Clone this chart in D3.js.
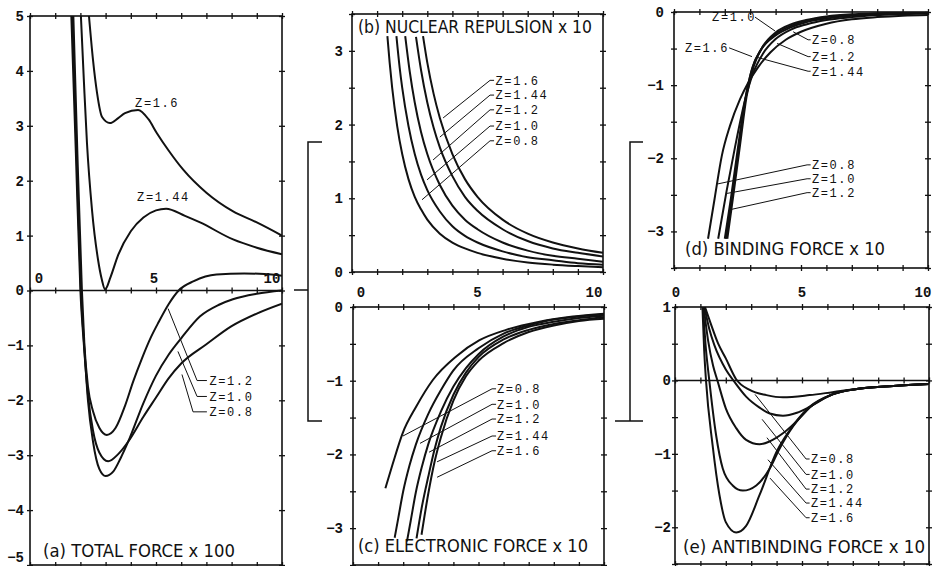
<!DOCTYPE html>
<html>
<head>
<meta charset="utf-8">
<script src="https://cdn.jsdelivr.net/npm/d3@7"></script>
<style>
  html, body { margin: 0; padding: 0; background: #fff; }
  svg { display: block; }
  .tlab { font-family: "Liberation Mono", "DejaVu Sans Mono", monospace; font-weight: bold; font-size: 14px; fill: #111; }
  .zlab { font-family: "Liberation Mono", "DejaVu Sans Mono", monospace; font-size: 12px; letter-spacing: 1.6px; fill: #111; }
  .title { font-family: "Liberation Sans Narrow", "DejaVu Sans Condensed", "Roboto Condensed", sans-serif; font-stretch: condensed; font-size: 18px; fill: #111; }
</style>
</head>
<body>
<svg id="fig" width="936" height="566"></svg>
<script>
// ---- values: [R, force] pairs, one array per exponent Z ----
const zNames = ["Z=0.8", "Z=1.0", "Z=1.2", "Z=1.44", "Z=1.6"];

// (a) total force x 100
const total08  = [[1.64,5],[1.82,2.5],[2.0,0],[2.14,-1],[2.3,-1.9],[2.5,-2.55],[2.75,-2.95],[3.1,-3.11],[3.5,-2.98],[3.9,-2.75],[4.5,-2.3],[5,-1.95],[5.5,-1.6],[6,-1.33],[7,-0.98],[8,-0.65],[9,-0.42],[10,-0.24]];
const total10  = [[1.68,5],[1.85,2.5],[2.02,0],[2.15,-1],[2.3,-2.0],[2.5,-2.75],[2.75,-3.25],[3.0,-3.38],[3.3,-3.3],[3.6,-3.05],[3.9,-2.75],[4.5,-2.05],[5,-1.55],[5.5,-1.17],[6,-0.87],[6.75,-0.47],[7.5,-0.26],[8.05,-0.16],[9,-0.06],[10,0]];
const total12  = [[1.72,5],[1.88,2.5],[2.06,0],[2.16,-1],[2.3,-1.75],[2.5,-2.2],[2.75,-2.5],[3.05,-2.63],[3.4,-2.5],[3.77,-2.1],[4.1,-1.65],[4.44,-1.24],[4.8,-0.85],[5.1,-0.58],[5.5,-0.25],[5.9,0],[6.5,0.17],[7.4,0.29],[8.5,0.31],[9.3,0.3],[10,0.27]];
const total144 = [[2.02,5],[2.14,3.8],[2.26,2.69],[2.46,1.47],[2.7,0.56],[2.85,0.2],[2.98,0.02],[3.2,0.25],[3.5,0.65],[4.0,1.08],[4.5,1.33],[5.0,1.46],[5.4,1.49],[6.15,1.36],[6.75,1.24],[8.06,0.93],[9,0.78],[10,0.66]];
const total16  = [[2.34,5],[2.5,4.2],[2.66,3.6],[2.86,3.16],[3.17,3.05],[3.5,3.14],[3.77,3.23],[4.29,3.29],[4.7,3.12],[5.03,2.87],[5.5,2.55],[6.08,2.2],[7,1.78],[8.06,1.44],[9,1.24],[10,1.0]];

// (b) nuclear repulsion x 10
const nuclear08  = [[1.41,3.2],[1.5,2.84],[1.6,2.5],[1.8,1.98],[2,1.6],[2.25,1.26],[2.5,1.02],[2.75,0.85],[3,0.71],[3.5,0.52],[4,0.4],[4.5,0.32],[5,0.26],[6,0.18],[7,0.13],[8,0.1],[9,0.08],[10,0.064]];
const nuclear10  = [[1.77,3.2],[1.9,2.77],[2,2.5],[2.25,1.98],[2.5,1.6],[2.75,1.32],[3,1.11],[3.5,0.82],[4,0.62],[4.5,0.49],[5,0.4],[6,0.28],[7,0.2],[8,0.16],[9,0.12],[10,0.1]];
const nuclear12  = [[2.12,3.2],[2.3,2.72],[2.5,2.3],[2.75,1.9],[3,1.6],[3.5,1.18],[4,0.9],[4.5,0.71],[5,0.58],[6,0.4],[7,0.29],[8,0.22],[9,0.18],[10,0.14]];
const nuclear144 = [[2.55,3.19],[2.75,2.74],[3,2.3],[3.25,1.96],[3.5,1.69],[4,1.3],[4.5,1.02],[5,0.83],[6,0.58],[7,0.42],[8,0.32],[9,0.26],[10,0.21]];
const nuclear16  = [[2.83,3.2],[3,2.84],[3.25,2.42],[3.5,2.09],[4,1.6],[4.5,1.26],[5,1.02],[6,0.71],[7,0.52],[8,0.4],[9,0.32],[10,0.26]];

// (c) electronic force x 10
const electronic08  = [[1.29,-2.46],[1.59,-2.12],[1.98,-1.71],[2.52,-1.35],[3.18,-0.99],[4.11,-0.67],[5.04,-0.45],[6.1,-0.31],[7.43,-0.2],[8.76,-0.13],[10,-0.09]];
const electronic10  = [[1.66,-3.13],[1.8,-2.87],[2,-2.5],[2.25,-2.15],[2.5,-1.87],[3,-1.45],[3.5,-1.13],[4,-0.86],[5,-0.56],[6,-0.36],[7,-0.25],[8,-0.17],[9,-0.13],[10,-0.1]];
const electronic12  = [[2.15,-3.18],[2.3,-2.9],[2.5,-2.52],[2.75,-2.16],[3,-1.86],[3.5,-1.42],[4,-1.08],[4.5,-0.83],[5,-0.64],[6,-0.4],[7,-0.27],[8,-0.2],[9,-0.15],[10,-0.12]];
const electronic144 = [[2.53,-3.14],[2.75,-2.7],[3,-2.3],[3.25,-1.93],[3.5,-1.63],[4,-1.19],[4.5,-0.89],[5,-0.68],[6,-0.44],[7,-0.31],[8,-0.23],[9,-0.18],[10,-0.14]];
const electronic16  = [[2.73,-3.09],[3,-2.53],[3.25,-2.1],[3.5,-1.77],[4,-1.27],[4.5,-0.94],[5,-0.73],[6,-0.49],[7,-0.34],[8,-0.25],[9,-0.19],[10,-0.16]];

// (d) binding force x 10
const binding08  = [[1.34,-3.1],[1.6,-2.55],[1.88,-1.97],[2.2,-1.56],[2.6,-1.19],[2.9,-0.98],[3.3,-0.76],[3.8,-0.55],[4.4,-0.38],[5,-0.27],[6,-0.16],[7,-0.1],[8,-0.07],[9,-0.05],[10,-0.04]];
const binding10  = [[1.74,-3.1],[2.07,-2.45],[2.4,-1.85],[2.8,-1.2],[3.1,-0.85],[3.5,-0.57],[4,-0.37],[4.6,-0.24],[5.2,-0.17],[6,-0.11],[7,-0.07],[8,-0.04],[9,-0.03],[10,-0.02]];
const binding12  = [[2.0,-3.1],[2.24,-2.55],[2.5,-1.9],[2.8,-1.2],[3.07,-0.78],[3.4,-0.53],[4,-0.32],[4.6,-0.21],[5.2,-0.14],[6,-0.09],[7,-0.05],[8,-0.03],[9,-0.02],[10,-0.01]];
const binding144 = [[2.05,-3.1],[2.3,-2.5],[2.55,-1.85],[2.82,-1.18],[3.1,-0.75],[3.45,-0.5],[4,-0.3],[4.6,-0.19],[5.2,-0.12],[6,-0.07],[7,-0.04],[8,-0.02],[9,-0.01],[10,-0.01]];
const binding16  = [[2.1,-3.1],[2.35,-2.47],[2.6,-1.82],[2.86,-1.15],[3.15,-0.73],[3.5,-0.47],[4,-0.28],[4.6,-0.17],[5.2,-0.11],[6,-0.06],[7,-0.03],[8,-0.02],[9,-0.01],[10,0]];

// (e) antibinding force x 10
const antibinding08  = [[1.18,1],[1.4,0.78],[1.7,0.5],[2.0,0.3],[2.4,0.02],[2.94,-0.13],[3.6,-0.2],[4.25,-0.23],[5.3,-0.2],[6.2,-0.16],[7.3,-0.11],[8.6,-0.075],[10,-0.05]];
const antibinding10  = [[1.16,1],[1.35,0.7],[1.55,0.48],[2.0,0.15],[2.3,0],[2.8,-0.22],[3.33,-0.37],[3.73,-0.45],[4.25,-0.48],[4.8,-0.44],[5.3,-0.36],[6.2,-0.19],[7.3,-0.11],[8.6,-0.075],[10,-0.05]];
const antibinding12  = [[1.13,1],[1.3,0.55],[1.5,0.2],[1.67,0],[2.0,-0.38],[2.41,-0.65],[2.8,-0.81],[3.33,-0.87],[3.73,-0.83],[4.25,-0.72],[4.92,-0.51],[5.3,-0.37],[6.2,-0.19],[7.3,-0.11],[8.6,-0.075],[10,-0.05]];
const antibinding144 = [[1.1,1],[1.2,0.5],[1.35,0],[1.62,-0.75],[1.88,-1.2],[2.27,-1.43],[2.67,-1.5],[3.2,-1.43],[3.73,-1.2],[4.1,-0.94],[4.66,-0.62],[5.3,-0.37],[6.2,-0.19],[7.3,-0.11],[8.6,-0.075],[10,-0.05]];
const antibinding16  = [[1.08,1],[1.15,0.4],[1.22,0],[1.48,-0.88],[1.75,-1.56],[2.0,-1.93],[2.41,-2.07],[2.8,-1.98],[3.33,-1.56],[4.0,-0.97],[4.66,-0.61],[5.3,-0.36],[6.2,-0.19],[7.3,-0.11],[8.6,-0.075],[10,-0.05]];

// tick labels
const xTickLabels = [0, 5, 10];
const yLabelsA = [5, 4, 3, 2, 1, 0, -1, -2, -3, -4, -5];
const yLabelsB = [0, 1, 2, 3];
const yLabelsC = [0, -1, -2, -3];
const yLabelsD = [0, -1, -2, -3];
const yLabelsE = [1, 0, -1, -2];

// ---- panel layout ----
const panels = [
  {
    box: {x0: 30, x1: 282, y0: 16, y1: 565}, yDomain: [-5, 5], yStep: 1, zeroLine: true,
    yLabels: yLabelsA, yLabelGap: 6, edgeLift: 8,
    xLabels: {inside: true, dy: -8, shift: [9, -2, -10]},
    series: [total08, total10, total12, total144, total16],
    title: {text: "(a) TOTAL FORCE x 100", dx: 13, y: 557, w: 192},
    notes: [
      {z: 4, at: [4.17, 3.42]},
      {z: 3, at: [4.25, 1.71]},
      {z: 2, at: [7.12, -1.64], leader: [[5.48, -0.33], [6.63, -1.64], [7.02, -1.64]]},
      {z: 1, at: [7.12, -1.93], leader: [[5.87, -1.11], [6.63, -1.93], [7.02, -1.93]]},
      {z: 0, at: [7.12, -2.21], leader: [[6.03, -1.53], [6.47, -2.21], [7.02, -2.21]]}
    ]
  },
  {
    box: {x0: 352, x1: 603, y0: 14, y1: 272}, yDomain: [0, 3.5], yStep: 0.5,
    yLabels: yLabelsB, yLabelGap: 9,
    xLabels: {inside: false, y: 297, shift: [9, 0, -9]},
    series: [nuclear08, nuclear10, nuclear12, nuclear144, nuclear16],
    title: {text: "(b) NUCLEAR REPULSION x 10", dx: 6, y: 33, w: 234},
    notes: [
      {z: 4, at: [5.72, 2.6],  leader: [[3.63, 2.09], [5.5, 2.6],  [5.66, 2.6]]},
      {z: 3, at: [5.72, 2.4],  leader: [[3.5, 1.83],  [5.5, 2.4],  [5.66, 2.4]]},
      {z: 2, at: [5.72, 2.2],  leader: [[3.23, 1.52], [5.5, 2.2],  [5.66, 2.2]]},
      {z: 1, at: [5.72, 1.98], leader: [[2.99, 1.25], [5.5, 1.98], [5.66, 1.98]]},
      {z: 0, at: [5.72, 1.78], leader: [[2.79, 0.98], [5.5, 1.78], [5.66, 1.78]]}
    ]
  },
  {
    box: {x0: 353, x1: 604, y0: 307, y1: 565}, yDomain: [-3.5, 0], yStep: 0.5,
    yLabels: yLabelsC, yLabelGap: 10,
    series: [electronic08, electronic10, electronic12, electronic144, electronic16],
    title: {text: "(c) ELECTRONIC FORCE x 10", dx: 5, y: 552, w: 230},
    notes: [
      {z: 0, at: [5.74, -1.11], leader: [[1.99, -1.75], [5.54, -1.11], [5.7, -1.11]]},
      {z: 1, at: [5.74, -1.32], leader: [[2.67, -1.85], [5.54, -1.32], [5.7, -1.32]]},
      {z: 2, at: [5.74, -1.52], leader: [[3.03, -1.97], [5.54, -1.52], [5.7, -1.52]]},
      {z: 3, at: [5.74, -1.75], leader: [[3.35, -2.1],  [5.54, -1.75], [5.7, -1.75]]},
      {z: 4, at: [5.74, -1.95], leader: [[3.35, -2.31], [5.54, -1.95], [5.7, -1.95]]}
    ]
  },
  {
    box: {x0: 674, x1: 928, y0: 12, y1: 268}, yDomain: [-3.5, 0], yStep: 0.5,
    yLabels: yLabelsD, yLabelGap: 10,
    xLabels: {inside: false, y: 297, shift: [2, 1, -5]},
    series: [binding08, binding10, binding12, binding144, binding16],
    title: {text: "(d) BINDING FORCE x 10", dx: 11, y: 255, w: 200},
    notes: [
      {z: 1, at: [1.5, -0.07],  leader: [[3.19, -0.07], [3.98, -0.26]]},
      {z: 0, at: [5.43, -0.38], leader: [[4.69, -0.27], [5.28, -0.38], [5.38, -0.38]]},
      {z: 2, at: [5.43, -0.61], leader: [[4.06, -0.43], [5.28, -0.61], [5.38, -0.61]]},
      {z: 3, at: [5.43, -0.81], leader: [[3.27, -0.62], [5.28, -0.81], [5.38, -0.81]]},
      {z: 4, at: [0.43, -0.49], leader: [[2.17, -0.49], [3.07, -0.61]]},
      {z: 0, at: [5.43, -2.09], leader: [[1.73, -2.35], [5.24, -2.09], [5.38, -2.09]]},
      {z: 1, at: [5.43, -2.28], leader: [[2.09, -2.48], [5.24, -2.28], [5.38, -2.28]]},
      {z: 2, at: [5.43, -2.47], leader: [[2.24, -2.7],  [5.24, -2.47], [5.38, -2.47]]}
    ]
  },
  {
    box: {x0: 675, x1: 929, y0: 307, y1: 564}, yDomain: [-2.5, 1], yStep: 0.5, zeroLine: true,
    yLabels: yLabelsE, yLabelGap: 4,
    series: [antibinding08, antibinding10, antibinding12, antibinding144, antibinding16],
    title: {text: "(e) ANTIBINDING FORCE x 10", dx: 8, y: 553, w: 242},
    notes: [
      {z: 0, at: [5.35, -1.07], leader: [[3.15, -0.19], [5.16, -1.07], [5.3, -1.07]]},
      {z: 1, at: [5.35, -1.28], leader: [[3.43, -0.53], [5.16, -1.28], [5.3, -1.28]]},
      {z: 2, at: [5.35, -1.48], leader: [[3.62, -0.78], [5.16, -1.48], [5.3, -1.48]]},
      {z: 3, at: [5.35, -1.67], leader: [[3.66, -1.08], [5.16, -1.67], [5.3, -1.67]]},
      {z: 4, at: [5.35, -1.87], leader: [[3.74, -1.33], [5.16, -1.87], [5.3, -1.87]]}
    ]
  }
];

const INK = "#111";
const svg = d3.select("#fig");

// short cross ticks built from a pair of opposite-facing axes
function crossTicks(g, scale, horizontal, pos, values) {
  const makers = horizontal ? [d3.axisTop, d3.axisBottom] : [d3.axisLeft, d3.axisRight];
  makers.forEach(fn => {
    const ax = fn(scale).tickValues(values).tickSize(3).tickFormat("");
    const gg = g.append("g")
      .attr("transform", horizontal ? `translate(0,${pos})` : `translate(${pos},0)`)
      .call(ax);
    gg.select(".domain").remove();
    gg.selectAll("line").attr("stroke", INK).attr("stroke-width", 1.3);
  });
}

panels.forEach((p, i) => {
  const b = p.box;
  const x = d3.scaleLinear().domain([0, 10]).range([b.x0, b.x1]);
  const y = d3.scaleLinear().domain(p.yDomain).range([b.y1, b.y0]);
  const g = svg.append("g");

  const clipId = "clip" + i;
  svg.append("clipPath").attr("id", clipId)
    .append("rect").attr("x", b.x0).attr("y", b.y0)
    .attr("width", b.x1 - b.x0).attr("height", b.y1 - b.y0);

  // frame
  g.append("rect").attr("x", b.x0).attr("y", b.y0)
    .attr("width", b.x1 - b.x0).attr("height", b.y1 - b.y0)
    .attr("fill", "none").attr("stroke", INK).attr("stroke-width", 1.6);

  const xVals = d3.range(0, 11);
  const yVals = d3.range(p.yDomain[0], p.yDomain[1] + 1e-9, p.yStep);
  crossTicks(g, x, true, b.y0, xVals);
  crossTicks(g, x, true, b.y1, xVals);
  crossTicks(g, y, false, b.x0, yVals);
  crossTicks(g, y, false, b.x1, yVals);

  if (p.zeroLine) {
    g.append("line").attr("x1", b.x0).attr("x2", b.x1)
      .attr("y1", y(0)).attr("y2", y(0))
      .attr("stroke", INK).attr("stroke-width", 1.4);
    crossTicks(g, x, true, y(0), xVals);
  }

  // y tick labels
  const yAx = g.append("g").attr("transform", `translate(${b.x0},0)`)
    .call(d3.axisLeft(y).tickValues(p.yLabels).tickSize(0).tickPadding(p.yLabelGap).tickFormat(d3.format("d")));
  yAx.select(".domain").remove();
  yAx.selectAll("text").attr("class", "tlab").attr("font-size", null).attr("font-family", null).attr("fill", null);
  yAx.attr("font-size", null).attr("font-family", null);
  if (p.edgeLift) {
    // keep the lowest label inside the page
    yAx.selectAll(".tick").filter(d => d === p.yDomain[0]).select("text")
      .attr("y", -p.edgeLift);
  }

  // x tick labels
  if (p.xLabels) {
    const ly = p.xLabels.inside ? y(0) + p.xLabels.dy : p.xLabels.y;
    g.selectAll(null).data(xTickLabels).join("text")
      .attr("class", "tlab")
      .attr("text-anchor", "middle")
      .attr("x", (d, k) => x(d) + p.xLabels.shift[k])
      .attr("y", ly)
      .text(d => d);
  }

  // curves
  const line = d3.line().x(d => x(d[0])).y(d => y(d[1])).curve(d3.curveMonotoneX);
  g.append("g").attr("clip-path", `url(#${clipId})`)
    .selectAll("path").data(p.series).join("path")
    .attr("d", line)
    .attr("fill", "none").attr("stroke", INK)
    .attr("stroke-width", 2).attr("stroke-linejoin", "round");

  // leaders and Z labels
  const straight = d3.line().x(d => x(d[0])).y(d => y(d[1]));
  p.notes.forEach(n => {
    if (n.leader) {
      g.append("path").attr("d", straight(n.leader))
        .attr("fill", "none").attr("stroke", INK).attr("stroke-width", 1);
    }
    g.append("text").attr("class", "zlab")
      .attr("x", x(n.at[0])).attr("y", y(n.at[1])).attr("dy", "0.36em")
      .text(zNames[n.z]);
  });

  // panel title
  g.append("text").attr("class", "title")
    .attr("x", b.x0 + p.title.dx).attr("y", p.title.y)
    .attr("textLength", p.title.w).attr("lengthAdjust", "spacingAndGlyphs")
    .text(p.title.text);
});

// brackets joining the panels: (a) = (b) + (c), (c) = (d) + (e)
const bracket = svg.append("g").attr("fill", "none").attr("stroke", INK).attr("stroke-width", 1.5);
bracket.append("path").attr("d", "M322,142H308V421H322M294,290H308");
bracket.append("path").attr("d", "M643,142H630V421M615,421H643");
</script>
</body>
</html>
